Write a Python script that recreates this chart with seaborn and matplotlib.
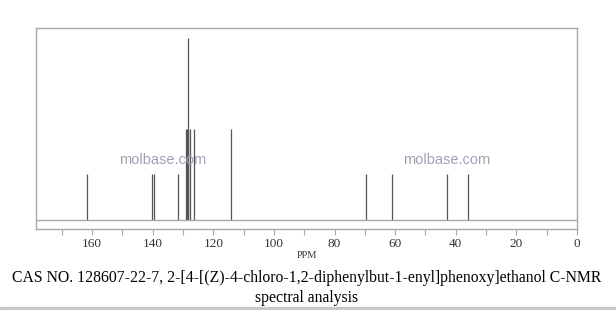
import matplotlib
matplotlib.use("Agg")
import matplotlib.pyplot as plt
import seaborn as sns
import numpy as np
import pandas as pd
from matplotlib.patches import Rectangle

# --- data ---
shifts = [161.6, 140.1, 139.6, 131.8, 129.1, 128.7, 128.5, 128.2, 127.8, 126.5, 114.3, 69.6, 60.9, 42.9, 36.0]
heights = [1, 1, 1, 1, 2, 2, 4, 2, 2, 2, 2, 1, 1, 1, 1]
tick_major = [160, 140, 120, 100, 80, 60, 40, 20, 0]
tick_minor = [170, 150, 130, 110, 90, 70, 50, 30, 10]
xlabel = "PPM"
watermark = "molbase.com"
caption1 = "CAS NO. 128607-22-7, 2-[4-[(Z)-4-chloro-1,2-diphenylbut-1-enyl]phenoxy]ethanol C-NMR"
caption2 = "spectral analysis"

df = pd.DataFrame({"ppm": shifts, "h": heights})

sns.set_theme(style="white")
plt.rcParams["font.family"] = ["Liberation Serif", "DejaVu Serif"]

fig = plt.figure(figsize=(6.16, 3.10), dpi=100)
ax = fig.add_axes([36 / 616, 1 - 229 / 310, (577 - 36) / 616, (229 - 28) / 310])

frame_col = "#a8a8a8"
ax.vlines(df["ppm"], 0, df["h"], color="#555555", lw=0.9)
ax.axhline(0, color=frame_col, lw=1.0)

ax.set_xlim(178.5, 0)
ax.set_ylim(-0.2, 4.21)
ax.set_yticks([])
ax.set_xticks(tick_major)
ax.set_xticks(tick_minor, minor=True)
ax.set_xticklabels([str(t) for t in tick_major], fontsize=9.5, color="#333333")
ax.tick_params(axis="x", which="both", direction="out", length=4, width=0.8,
               color=frame_col, pad=2.5, bottom=True)
for s in ax.spines.values():
    s.set_color(frame_col)
    s.set_linewidth(1.0)
ax.set_xlabel(xlabel, fontsize=7.5, color="#333333", labelpad=1)

for xw in [163, 447]:
    fig.text(xw / 616, 1 - 160 / 310, watermark, ha="center", va="center",
             fontsize=10.5, color="#a0a2b4", family=["Liberation Sans", "DejaVu Sans"])

fig.text(307 / 616, 1 - 278 / 310, caption1, ha="center", va="center",
         fontsize=11.3, color="black")
fig.text(307 / 616, 1 - 298 / 310, caption2, ha="center", va="center",
         fontsize=11.3, color="black")

fig.patches.append(Rectangle((0, 0), 1, 3.5 / 310, transform=fig.transFigure,
                             color="#c8c8c8", zorder=0))

fig.savefig("out.png", dpi=100)
